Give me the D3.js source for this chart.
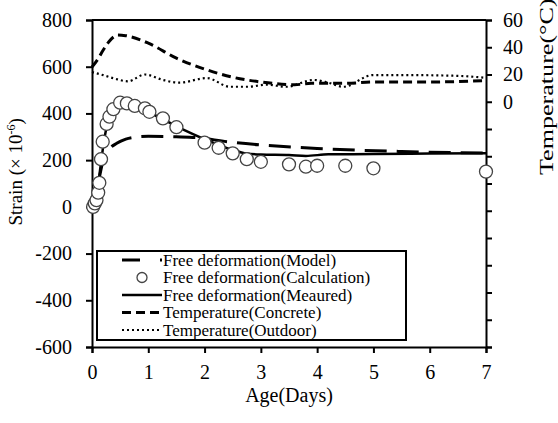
<!DOCTYPE html>
<html>
<head>
<meta charset="utf-8">
<script src="https://cdn.jsdelivr.net/npm/d3@7"></script>
<style>
  body { margin: 0; background: #fff; }
  text { font-family: "Liberation Serif", "Times New Roman", serif; fill: #000; }
</style>
</head>
<body>
<div id="chart"></div>
<script>
// Data
var calcDays   = [0.02, 0.05, 0.08, 0.11, 0.13, 0.16, 0.19, 0.26, 0.31, 0.38, 0.5, 0.62, 0.76, 0.94, 1.02, 1.26, 1.5, 2.0, 2.25, 2.5, 2.75, 3.0, 3.5, 3.8, 4.0, 4.5, 5.0, 7.0];
var calcStrain = [0, 15, 29, 61, 103, 204, 279, 355, 386, 418, 446, 443, 432, 422, 407, 379, 341, 275, 253, 229, 204, 193, 182, 172, 176, 176, 165, 151];

var measDays   = [0, 0.05, 0.1, 0.15, 0.2, 0.25, 0.3, 0.4, 0.5, 0.6, 1.0, 1.5, 2.0, 2.5, 2.75, 3.0, 3.5, 3.8, 4.2, 5.0, 6.0, 7.0];
var measStrain = [0, 25, 80, 170, 260, 330, 370, 415, 435, 432, 405, 345, 290, 243, 228, 224, 222, 218, 225, 226, 228, 229];

var modelDays   = [0, 0.1, 0.2, 0.3, 0.44, 0.6, 0.75, 1.0, 1.5, 1.85, 2.4, 3.0, 4.0, 5.5, 7.0];
var modelStrain = [0, 90, 200, 245, 272, 290, 298, 302, 300, 297, 279, 265, 250, 237, 230];

var concDays = [0, 0.1, 0.2, 0.3, 0.46, 0.6, 1.0, 1.5, 2.0, 2.5, 3.0, 3.6, 3.9, 4.5, 5.0, 6.0, 7.0];
var concTemp = [25.5, 31, 38, 44, 49, 48.5, 43, 32, 24, 18, 14.5, 12.5, 13.5, 13.5, 14.5, 14.5, 15.5];

var outDays = [0, 0.2, 0.4, 0.64, 0.94, 1.26, 1.55, 2.04, 2.45, 2.75, 3.11, 3.46, 3.93, 4.2, 4.46, 4.99, 5.5, 6.5, 7.0];
var outTemp = [21.8, 19.5, 17, 15, 20, 16, 14, 17.4, 11, 11, 12.5, 11, 16, 14, 11, 19.6, 19.6, 19, 17.5];

var xTicks = [0, 1, 2, 3, 4, 5, 6, 7];
var strainTicks = [-600, -400, -200, 0, 200, 400, 600, 800];
var tempTicks = d3.range(-180, 61, 20);
var tempLabels = [0, 20, 40, 60];

var legendItems = [
  {label: "Free deformation(Model)", kind: "model"},
  {label: "Free deformation(Calculation)", kind: "calc"},
  {label: "Free deformation(Meaured)", kind: "meas"},
  {label: "Temperature(Concrete)", kind: "conc"},
  {label: "Temperature(Outdoor)", kind: "out"}
];

// Margin convention
var margin = {top: 20, right: 72, bottom: 76, left: 92};
var width = 558 - margin.left - margin.right;
var height = 423 - margin.top - margin.bottom;

var svg = d3.select("#chart")
            .append("svg")
            .attr("width", 558)
            .attr("height", 423)
            .append("g")
            .attr("transform", "translate(" + margin.left + "," + margin.top + ")");

// Scales
var x = d3.scaleLinear().domain([0, 7]).range([0, width]);
var yL = d3.scaleLinear().domain([-600, 800]).range([height, 0]);
var yR = d3.scaleLinear().domain([-180, 60]).range([height, 0]);

// Axes
var xAxis = svg.append("g")
   .attr("transform", "translate(0," + height + ")")
   .call(d3.axisBottom(x).tickValues(xTicks).tickSizeOuter(0).tickSize(6).tickPadding(12).tickFormat(d3.format("d")));

var leftAxis = svg.append("g")
   .call(d3.axisLeft(yL).tickValues(strainTicks).tickSizeOuter(0).tickSize(6).tickPadding(14)
         .tickFormat(function(d) { return String(d); }));

var rightAxis = svg.append("g")
   .attr("transform", "translate(" + width + ",0)")
   .call(d3.axisRight(yR).tickValues(tempTicks).tickSizeOuter(0).tickSize(6).tickPadding(11)
         .tickFormat(function(d) { return tempLabels.indexOf(d) >= 0 ? String(d) : ""; }));

[xAxis, leftAxis, rightAxis].forEach(function(a) {
  a.select(".domain").attr("stroke", "#000").attr("stroke-width", 2);
  a.selectAll(".tick line").attr("stroke", "#000").attr("stroke-width", 2);
  a.selectAll(".tick text").attr("font-size", 20).attr("font-family", "Liberation Serif").attr("fill", "#000");
});

// top frame line
svg.append("line")
   .attr("x1", 0).attr("x2", width)
   .attr("y1", 0).attr("y2", 0)
   .attr("stroke", "#000").attr("stroke-width", 2);

// Lines
function makeLine(days, vals, scale) {
  return d3.line()
           .x(function(d, i) { return x(days[i]); })
           .y(function(d, i) { return scale(vals[i]); })
           .curve(d3.curveMonotoneX)(vals);
}

svg.append("path")
   .attr("d", makeLine(outDays, outTemp, yR))
   .attr("fill", "none").attr("stroke", "#000")
   .attr("stroke-width", 2.2).attr("stroke-dasharray", "2 3");

svg.append("path")
   .attr("d", makeLine(concDays, concTemp, yR))
   .attr("fill", "none").attr("stroke", "#000")
   .attr("stroke-width", 3).attr("stroke-dasharray", "9 5");

svg.append("path")
   .attr("d", makeLine(modelDays, modelStrain, yL))
   .attr("fill", "none").attr("stroke", "#000")
   .attr("stroke-width", 3).attr("stroke-dasharray", "22 10");

svg.append("path")
   .attr("d", makeLine(measDays, measStrain, yL))
   .attr("fill", "none").attr("stroke", "#000")
   .attr("stroke-width", 2.5);

svg.append("g")
   .selectAll("circle")
   .data(calcStrain)
   .enter().append("circle")
   .attr("cx", function(d, i) { return x(calcDays[i]); })
   .attr("cy", function(d) { return yL(d); })
   .attr("r", 6.5)
   .attr("fill", "#fff")
   .attr("stroke", "#444")
   .attr("stroke-width", 1.3);

// Legend
var legend = svg.append("g").attr("transform", "translate(5,231)");
legend.append("rect")
      .attr("width", 309).attr("height", 89)
      .attr("fill", "#fff").attr("stroke", "#000").attr("stroke-width", 2);

var rows = legend.selectAll(".row")
      .data(legendItems)
      .enter().append("g")
      .attr("transform", function(d, i) { return "translate(0," + (9 + i * 17.5) + ")"; });

rows.each(function(d) {
  var g = d3.select(this);
  if (d.kind === "calc") {
    g.append("circle").attr("cx", 45).attr("cy", 0).attr("r", 5)
     .attr("fill", "#fff").attr("stroke", "#444").attr("stroke-width", 1.3);
  } else {
    var dash = {model: "18 20", meas: null, conc: "9 5", out: "2 3"}[d.kind];
    var sw = {model: 3, meas: 2.5, conc: 3, out: 2.2}[d.kind];
    g.append("line").attr("x1", 25).attr("x2", 65).attr("y1", 0).attr("y2", 0)
     .attr("stroke", "#000").attr("stroke-width", sw)
     .attr("stroke-dasharray", dash);
  }
  g.append("text").attr("x", 66).attr("y", 5.5)
   .attr("font-size", 17).text(d.label);
});

// Axis titles
svg.append("text")
   .attr("text-anchor", "middle")
   .attr("font-size", 20)
   .attr("transform", "translate(" + (width / 2) + "," + (height + 55) + ")")
   .text("Age(Days)");

var yTitle = svg.append("text")
   .attr("text-anchor", "middle")
   .attr("font-size", 19)
   .attr("transform", "translate(-70," + (yL(0) - 35) + ") rotate(-90)");
yTitle.append("tspan").text("Strain (× 10");
yTitle.append("tspan").attr("font-size", 12).attr("dy", -7).text("-6");
yTitle.append("tspan").attr("dy", 7).text(")");

svg.append("text")
   .attr("text-anchor", "start")
   .attr("font-size", 18)
   .attr("transform", "translate(" + (width + 67) + ",155) rotate(-90) scale(1.45,1)")
   .text("Temperature(°C)");
</script>
</body>
</html>
